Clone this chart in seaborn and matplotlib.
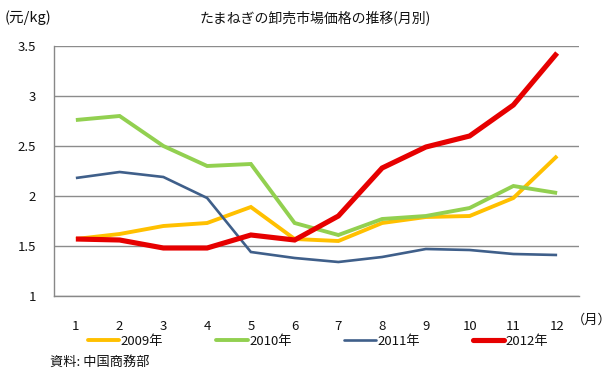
import matplotlib
matplotlib.use("Agg")
import matplotlib.pyplot as plt
import seaborn as sns
import pandas as pd
import numpy as np

months = [1, 2, 3, 4, 5, 6, 7, 8, 9, 10, 11, 12]
y2009 = [1.57, 1.62, 1.70, 1.73, 1.89, 1.57, 1.55, 1.73, 1.79, 1.80, 1.98, 2.40]
y2010 = [2.76, 2.80, 2.50, 2.30, 2.32, 1.73, 1.61, 1.77, 1.80, 1.88, 2.10, 2.03]
y2011 = [2.18, 2.24, 2.19, 1.98, 1.44, 1.38, 1.34, 1.39, 1.47, 1.46, 1.42, 1.41]
y2012 = [1.57, 1.56, 1.48, 1.48, 1.61, 1.56, 1.80, 2.28, 2.49, 2.60, 2.91, 3.43]
series_names = ["2009年", "2010年", "2011年", "2012年"]
yticks = [1, 1.5, 2, 2.5, 3, 3.5]
ytick_labels = ["1", "1.5", "2", "2.5", "3", "3.5"]

title = "たまねぎの卸売市場価格の推移(月別)"
ylabel = "(元/kg)"
xunit = "（月）"
source = "資料: 中国商務部"

sns.set_style("white")
plt.rcParams["font.family"] = ["Noto Sans CJK JP", "DejaVu Sans"]

df = pd.DataFrame({
    "month": months * 4,
    "value": y2009 + y2010 + y2011 + y2012,
    "year": sum([[n] * len(months) for n in series_names], []),
})

colors = ["#FFC000", "#92D050", "#3F5F8A", "#E60000"]
widths = {"2009年": 2.8, "2010年": 2.8, "2011年": 1.9, "2012年": 3.7}

fig = plt.figure(figsize=(6.11, 3.75), dpi=100)
ax = fig.add_axes([54 / 611, 1 - 296 / 375, 525 / 611, 250 / 375])

sns.lineplot(data=df, x="month", y="value", hue="year", palette=colors,
             ax=ax, legend=False, sort=False)
for line, name in zip(ax.get_lines(), series_names):
    line.set_linewidth(widths[name])
    line.set_solid_capstyle("butt")
    line.set_solid_joinstyle("miter")

ax.set_xlim(0.5, 12.5)
ax.set_ylim(1, 3.5)
ax.set_yticks(yticks)
ax.set_yticklabels(ytick_labels)
ax.set_xticks(months)
ax.set_xticklabels([str(m) for m in months])
ax.set_xticks(np.arange(0.5, 13, 1), minor=True)
ax.tick_params(axis="x", which="major", length=0, pad=17, labelsize=9.5, colors="#111111")
ax.tick_params(axis="x", which="minor", length=5, width=1, color="#888888", direction="out")
ax.tick_params(axis="y", which="major", length=5, width=1, color="#888888", direction="out",
               labelsize=9.5, labelcolor="#111111", pad=8)
ax.grid(axis="y", color="#8c8c8c", linewidth=1)
ax.grid(axis="x", visible=False)
ax.set_axisbelow(True)
for s in ["top", "right"]:
    ax.spines[s].set_visible(False)
for s in ["left", "bottom"]:
    ax.spines[s].set_color("#888888")
    ax.spines[s].set_linewidth(1)
ax.set_xlabel("")
ax.set_ylabel("")

fig.text(5 / 611, 1 - 18 / 375, ylabel, fontsize=10.5, va="center", ha="left", color="#111111")
fig.text(315 / 611, 1 - 18 / 375, title, fontsize=10, va="center", ha="center", color="#111111")
fig.text(592 / 611, 1 - 320 / 375, xunit, fontsize=9.5, va="center", ha="center", color="#111111")
fig.text(50 / 611, 1 - 362 / 375, source, fontsize=9.5, va="center", ha="left", color="#111111")

handles = [plt.Line2D([], [], color=c, linewidth=widths[n]) for c, n in zip(colors, series_names)]
leg = fig.legend(handles, series_names, loc="center", bbox_to_anchor=(318 / 611, 1 - 341 / 375),
                 ncol=4, frameon=False, fontsize=9.5, handlelength=2.4, handletextpad=0.1,
                 columnspacing=4.0)
for t in leg.get_texts():
    t.set_color("#111111")

fig.savefig("out.png", dpi=100)
